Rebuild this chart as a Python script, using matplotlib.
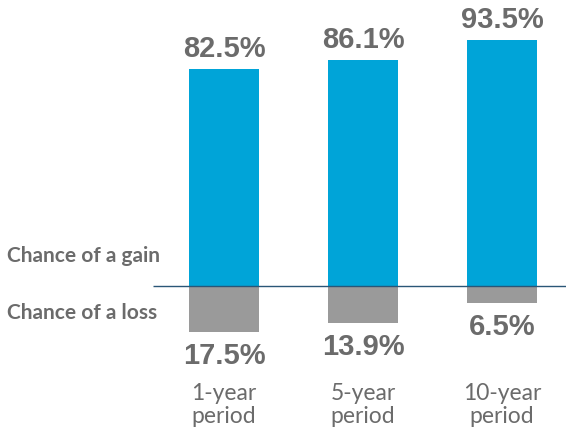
import numpy as np
import matplotlib.pyplot as plt

periods = ['1-year\nperiod', '5-year\nperiod', '10-year\nperiod']
gain = [82.5, 86.1, 93.5]
loss = [17.5, 13.9, 6.5]

blue = '#00a4d8'
grey_bar = '#9a9a9a'
txt = '#6b6b6b'

fig = plt.figure(figsize=(5.66, 4.3), dpi=100)
ax = fig.add_axes([0, 0, 1, 1])

x = np.arange(len(periods))
scale = 2.63  # pixels per percentage point
ax.set_xlim(-224 / 139, (566 - 224) / 139)
ax.set_ylim(-144 / scale, 286 / scale)
ax.axis('off')

ax.bar(x, gain, width=0.504, color=blue, zorder=2)
ax.bar(x, [-v for v in loss], width=0.504, color=grey_bar, zorder=2)
ax.hlines(0, -0.511, 3, color='#2a5677', linewidth=1.0, zorder=3)

pct_font = dict(family='Liberation Sans', fontweight='bold', fontsize=21, color=txt)
for xi, g, l in zip(x, gain, loss):
    ax.annotate(f'{g}%', (xi, g), xytext=(0, 6), textcoords='offset pixels',
                ha='center', va='bottom', **pct_font)
    ax.annotate(f'{l}%', (xi, -l), xytext=(0, -10), textcoords='offset pixels',
                ha='center', va='top', **pct_font)

# period labels sit at a fixed height below the chart
for xi, lab in zip(x, periods):
    ax.text(xi, -97 / scale, lab, ha='center', va='top',
            family='Lato', fontsize=16.5, color=txt, linespacing=1.12)

fig.text(7 / 566, 1 - 256 / 430, 'Chance of a gain', ha='left', va='center',
         family='Lato', fontweight='bold', fontsize=15, color=txt)
fig.text(7 / 566, 1 - 313 / 430, 'Chance of a loss', ha='left', va='center',
         family='Lato', fontweight='bold', fontsize=15, color=txt)

fig.savefig('out.png', dpi=100)
